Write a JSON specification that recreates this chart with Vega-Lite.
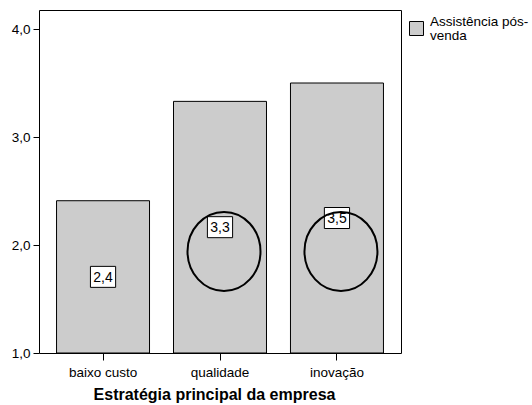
{
  "$schema": "https://vega.github.io/schema/vega-lite/v6.json",
  "width": 362,
  "height": 343,
  "autosize": {"type": "none"},
  "padding": {"left": 39, "top": 10, "right": 131, "bottom": 52},
  "config": {
    "locale": {"number": {"decimal": ",", "thousands": ".", "grouping": [3], "currency": ["", " €"]}},
    "font": "Liberation Sans",
    "view": {"stroke": "#000000", "strokeWidth": 1},
    "style": {"guide-label": {"lineHeight": 14}},
    "axis": {"labelColor": "#000000", "domainColor": "#000000", "tickColor": "#000000", "titleColor": "#000000", "grid": false, "labelFont": "Liberation Sans", "titleFont": "Liberation Sans"}
  },
  "data": {
    "values": [
      {"estrategia": "baixo custo", "valor": 2.41, "serie": "Assistência pós-venda"},
      {"estrategia": "qualidade", "valor": 3.33, "serie": "Assistência pós-venda"},
      {"estrategia": "inovação", "valor": 3.5, "serie": "Assistência pós-venda"}
    ]
  },
  "encoding": {
    "x": {
      "field": "estrategia", "type": "nominal",
      "sort": ["baixo custo", "qualidade", "inovação"],
      "scale": {"paddingInner": 0.205, "paddingOuter": 0.15},
      "axis": {"title": "Estratégia principal da empresa", "labelAngle": 0, "labelFontSize": 13.5, "tickSize": 7, "labelPadding": 5, "titleFontSize": 16, "titleFontWeight": "bold", "titlePadding": 8, "titleX": 175, "domain": false}
    }
  },
  "layer": [
    {
      "mark": {"type": "bar", "fill": "#cccccc", "stroke": "#000000", "strokeWidth": 1},
      "encoding": {
        "y": {
          "field": "valor", "type": "quantitative",
          "scale": {"domain": [1, 4.176], "nice": false, "zero": false},
          "axis": {"title": null, "values": [1, 2, 3, 4], "format": ".1f", "labelFontSize": 13.5, "tickSize": 6, "labelPadding": 3, "domain": false}
        },
        "y2": {"datum": 1},
        "color": {
          "field": "serie", "type": "nominal",
          "scale": {"range": ["#cccccc"]},
          "legend": {
            "title": null, "orient": "none", "legendX": 370, "legendY": 11,
            "symbolType": "square", "symbolSize": 196, "symbolStrokeColor": "#000000", "symbolStrokeWidth": 1, "symbolFillColor": "#cccccc",
            "labelFontSize": 13.5, "labelColor": "#000000", "labelLimit": 200, "labelOffset": 6, "labelBaseline": "bottom",
            "labelExpr": "['Assistência pós-', 'venda']"
          }
        }
      }
    },
    {
      "transform": [{"calculate": "(1 + datum.valor) / 2", "as": "meio"}],
      "mark": {"type": "point", "shape": "M-1.2,-1H1.2V1H-1.2Z", "size": 441, "filled": true, "fill": "#ffffff", "stroke": "#000000", "strokeWidth": 1, "opacity": 1},
      "encoding": {
        "y": {"field": "meio", "type": "quantitative"}
      }
    },
    {
      "transform": [{"calculate": "(1 + datum.valor) / 2", "as": "meio"}],
      "mark": {"type": "text", "fontSize": 14, "color": "#000000", "baseline": "middle", "dy": 1},
      "encoding": {
        "y": {"field": "meio", "type": "quantitative"},
        "text": {"field": "valor", "type": "quantitative", "format": ".1f"}
      }
    },
    {
      "data": {"values": [{"estrategia": "qualidade"}, {"estrategia": "inovação"}]},
      "mark": {"type": "point", "shape": "M0,-1A0.924,1,0,1,1,0,1A0.924,1,0,1,1,0,-1Z", "size": 6241, "filled": false, "stroke": "#000000", "strokeWidth": 2, "opacity": 1, "xOffset": 4},
      "encoding": {
        "y": {"datum": 1.94}
      }
    }
  ]
}
